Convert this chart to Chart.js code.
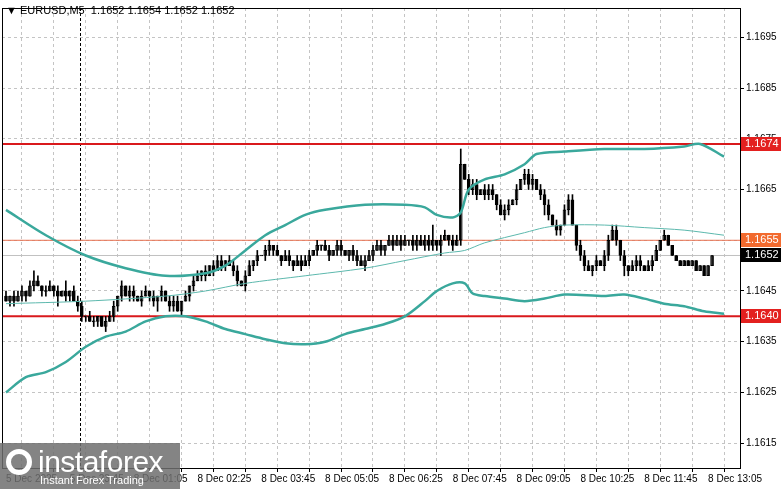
<!DOCTYPE html>
<html>
<head>
<meta charset="utf-8">
<script src="https://cdn.jsdelivr.net/npm/chart.js@4.4.1/dist/chart.umd.min.js"></script>
<style>
  body { margin: 0; background: #fff; }
  #wrap { position: relative; width: 781px; height: 489px; }
  #logo { position: absolute; left: 0; top: 443px; width: 180px; height: 46px; background: rgba(110,110,110,0.85);
          color: #fff; font-family: "Liberation Sans", sans-serif; }
  #logo .big { position: absolute; left: 38px; top: 2px; font-size: 30px; letter-spacing: -0.5px; }
  #logo .small { position: absolute; left: 40px; top: 31px; font-size: 11px; }
  #logo .gear { position: absolute; left: 6px; top: 6px; width: 26px; height: 26px; border: 5px solid #fff; border-radius: 50%; box-sizing: border-box; }
</style>
</head>
<body>
<div id="wrap">
  <canvas id="chart" width="781" height="489"></canvas>
  <div id="logo"><div class="gear"></div><div class="big">instaforex</div><div class="small">Instant Forex Trading</div></div>
</div>
<script>
// EURUSD M5, closes in pips above 1.1600, bar 0 = 5 Dec 22:25
var closes = [43,44,43,44,45,44,46, 47,46,45,45,46, 45,44,45,44,45, 43,42,
  40,40,39,39,40,38,39,40, 42,44,46,44,45, 44,43,44,45,44,43,44,45, 43,42,43,41,43,44,
  46,47,48,49,48, 50,49,51,50,51,50,49, 47,46,48, 50,51,52,52,53,54,53, 52,51,52,51,50,51,50,
  51,52,53,54,54, 53,52,53,54,53,52,53,52,51, 50,51,52,53,54,53,
  54,55,54,55,54,55,55,54,55,54,55,54,55,54,55,56,55,54, 55, 70,
  67,65,66,64,65,64,65,64, 62,60,61,62,63, 65,67,68,66,67,65, 64,62,60,58,57,58, 61,63,
  58,54,52,50, 49,50,51,50,52,55, 57,55, 52,50,49,50,51,50,49,50, 51,53,55,56,54,
  52,51,50,51,50,51,49,50,48,50,52];
var upWick = "1011101210110102011101100111010110110101011101011010111011101101011010110111101011011001111111101111101111130110111011101110111010111011101011101110101111010111011101";
var dnWick = "0110110101101201101110110101110110101121011010110110101101101011011101011010101101011011101010110101011101111201101011101111011010111012101101011101101101121011001";

var bandX     = [0,  10, 20, 30,  40, 50,  55, 60, 65, 70, 75, 80, 90, 100, 105, 108, 112, 114, 116, 120, 125, 130, 133, 140, 150, 160, 170, 174, 180];
var bandUpper = [61, 56, 52, 49.5,48, 48.5,50, 53, 56, 58, 60, 61, 62, 62,  61.5,60,  59.5,60.5,65,  67,  68,  70,  72,  72.5,73,  73,  73.5,74,  71.5];
var lowX      = [0, 5, 10, 15, 20, 25, 30, 35, 40, 45, 50, 55,  60,  65,  70,  75,  80, 85,  90,  95,  100, 105, 108, 112,  115,  117,  120, 125,  130, 135,  140,  150, 155,  160,  165,  170, 175, 180];
var bandLower = [25,28, 29, 31, 34, 36, 37, 39, 40, 40, 39, 37.5,36.5,35.5,34.7,34.5,35, 36.5,37.5,38.5,40,  43,  45,  46.5, 46.5, 44.5, 44,  43.5, 43,  43.5, 44.3, 44,  44.3, 43.5, 42.5, 42,  41,  40.5];
var midX      = [0,   20, 40, 50, 60,  75, 90,  100, 110,  115, 120,  130,  135,  140, 150, 160,  170, 180];
var bandMid   = [42.5,43, 44, 45, 46.5,48, 49.5,51,  52.5, 53,  54.5, 56.5, 57.5, 58,  58,  57.5, 57,  56];

var yTicks = [1.1615, 1.1625, 1.1635, 1.1645, 1.1655, 1.1665, 1.1675, 1.1685, 1.1695];
var xLabels = ["5 Dec 2025", "5 Dec 23:45", "8 Dec 01:05", "8 Dec 02:25", "8 Dec 03:45", "8 Dec 05:05",
  "8 Dec 06:25", "8 Dec 07:45", "8 Dec 09:05", "8 Dec 10:25", "8 Dec 11:45", "8 Dec 13:05"];
var daySeparator = 19;

var levels = [
  { price: 1.1674, color: '#d9191c', width: 2, box: '#e3201f', text: '1.1674' },
  { price: 1.1655, color: '#e8714f', width: 1, box: '#f26a2e', text: '1.1655' },
  { price: 1.1652, color: '#c0c0c0', width: 1, box: '#000000', text: '1.1652' },
  { price: 1.1640, color: '#d9191c', width: 2, box: '#e3201f', text: '1.1640' }
];

function px(p) { return 1.16 + p / 10000; }

var wicks = [], bodies = [], bodyColors = [];
for (var i = 0; i < closes.length; i++) {
  var o = i === 0 ? closes[0] + 1 : closes[i - 1];
  var c = closes[i];
  var hi = Math.max(o, c) + (+upWick[i] || 0);
  var lo = Math.min(o, c) - (+dnWick[i] || 0);
  if (i === 114) hi = 73;
  wicks.push({ x: i, y: [px(lo) , px(hi)] });
  var b0 = px(Math.min(o, c)), b1 = px(Math.max(o, c));
  if (o === c) { b0 -= 0.00001; b1 += 0.00001; }
  bodies.push({ x: i, y: [b0, b1] });
  bodyColors.push(c < o ? '#000000' : '#ffffff');
}

function pts(xs, ys) { return xs.map(function (x, k) { return { x: x, y: px(ys[k]) }; }); }

var overlay = {
  id: 'overlay',
  beforeDatasetsDraw: function (chart) {
    var ctx = chart.ctx, a = chart.chartArea, xs = chart.scales.x, ys = chart.scales.y;
    ctx.save();
    var sx = Math.round(xs.getPixelForValue(daySeparator - 0.5)) + 0.5;
    ctx.strokeStyle = '#000'; ctx.lineWidth = 1; ctx.setLineDash([3, 2]);
    ctx.beginPath(); ctx.moveTo(sx, a.top); ctx.lineTo(sx, a.bottom); ctx.stroke();
    ctx.setLineDash([]);
    levels.forEach(function (l) {
      var y = ys.getPixelForValue(l.price);
      ctx.strokeStyle = l.color; ctx.lineWidth = l.width;
      ctx.beginPath(); ctx.moveTo(a.left, y); ctx.lineTo(a.right, y); ctx.stroke();
    });
    ctx.restore();
  },
  afterDraw: function (chart) {
    var ctx = chart.ctx, a = chart.chartArea, ys = chart.scales.y;
    ctx.save();
    ctx.strokeStyle = '#000'; ctx.lineWidth = 1;
    ctx.strokeRect(a.left + 0.5, a.top + 0.5, a.right - a.left, a.bottom - a.top);
    ctx.font = '11px "Liberation Sans", sans-serif';
    ctx.textBaseline = 'middle';
    levels.forEach(function (l) {
      var y = Math.round(ys.getPixelForValue(l.price));
      ctx.fillStyle = l.box;
      ctx.fillRect(a.right + 1, y - 7, 40, 14);
      ctx.fillStyle = '#fff';
      ctx.fillText(l.text, a.right + 5, y);
    });
    ctx.fillStyle = '#000';
    ctx.font = '11px "Liberation Sans", sans-serif';
    ctx.fillText('\u25BC EURUSD,M5  1.1652 1.1654 1.1652 1.1652', 6, 11);
    ctx.restore();
  }
};

new Chart(document.getElementById('chart').getContext('2d'), {
  type: 'bar',
  data: {
    datasets: [
      { type: 'line', data: pts(bandX, bandUpper), borderColor: '#3aa89c', borderWidth: 2.5, pointRadius: 0, tension: 0.3 },
      { type: 'line', data: pts(lowX, bandLower), borderColor: '#3aa89c', borderWidth: 2.5, pointRadius: 0, tension: 0.3 },
      { type: 'line', data: pts(midX, bandMid), borderColor: '#5cb8ad', borderWidth: 1, pointRadius: 0, tension: 0.3 },
      { data: wicks, backgroundColor: '#000', barThickness: 1, grouped: false },
      { data: bodies, backgroundColor: bodyColors, borderColor: '#000', borderWidth: 1, borderSkipped: false, barThickness: 3, grouped: false }
    ]
  },
  options: {
    responsive: false,
    animation: false,
    layout: { padding: { top: -4, left: 2 } },
    plugins: { legend: { display: false }, tooltip: { enabled: false } },
    scales: {
      x: {
        type: 'linear', min: -1, max: 184, offset: false,
        border: { display: false, dash: [3, 3] },
        grid: { color: '#c4c4c4', drawTicks: true, tickLength: 4, tickColor: '#000' },
        afterBuildTicks: function (s) { var t = []; for (var k = 0; k <= 176; k += 8) t.push({ value: k }); s.ticks = t; },
        afterFit: function (s) { s.height = 21; },
        ticks: {
          autoSkip: false, maxRotation: 0, align: 'start', padding: 1, color: '#000',
          font: { family: 'Liberation Sans', size: 10 },
          callback: function (v) { return v % 16 === 0 ? xLabels[v / 16] : ''; }
        }
      },
      y: {
        position: 'right', min: 1.16101, max: 1.17008,
        border: { display: false, dash: [3, 3] },
        grid: { color: '#c4c4c4', drawTicks: true, tickLength: 4, tickColor: '#000' },
        afterBuildTicks: function (s) { s.ticks = yTicks.map(function (v) { return { value: v }; }); },
        afterFit: function (s) { s.width = 41; },
        ticks: {
          padding: 2, color: '#000', font: { family: 'Liberation Sans', size: 10 },
          callback: function (v) { return v.toFixed(4); }
        }
      }
    }
  },
  plugins: [overlay]
});
</script>
</body>
</html>
